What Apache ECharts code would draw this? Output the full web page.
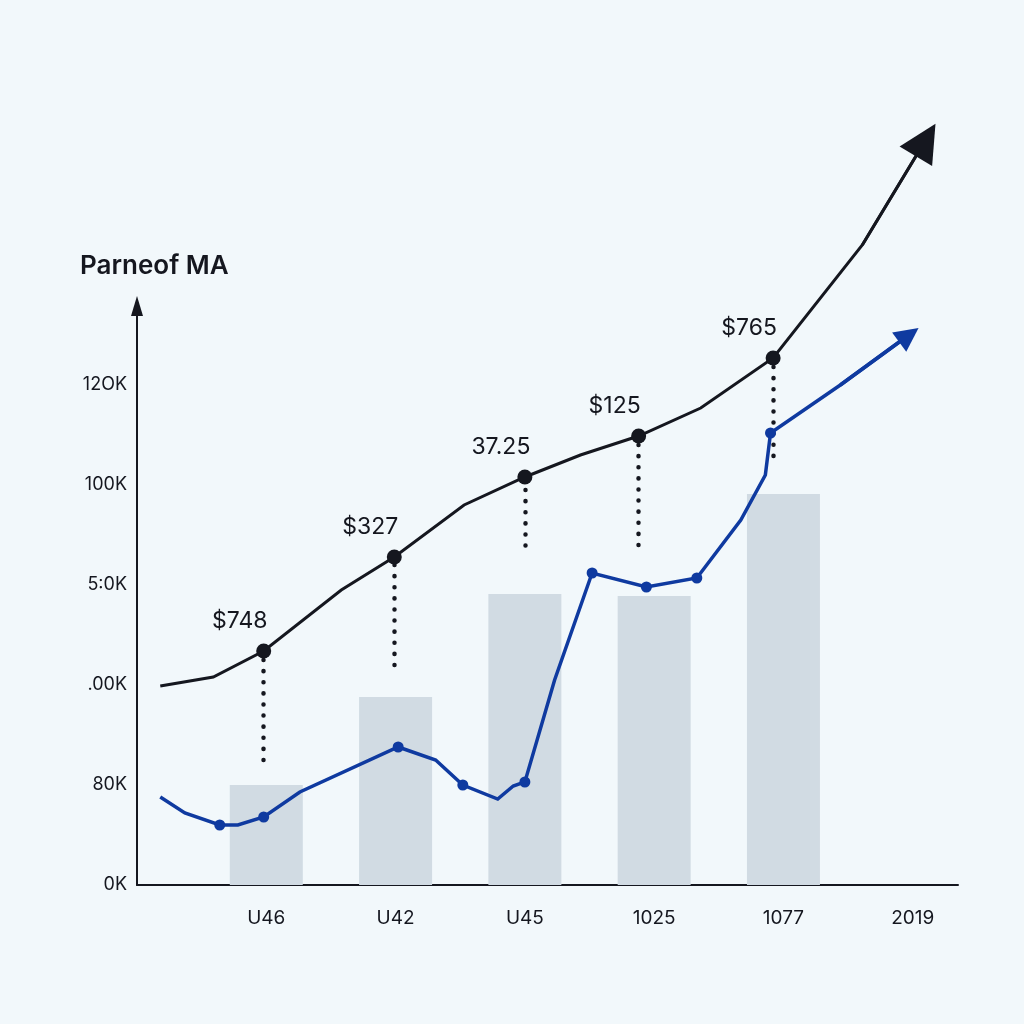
<!DOCTYPE html>
<html><head><meta charset="utf-8">
<script src="https://cdn.jsdelivr.net/npm/echarts@6/dist/echarts.min.js"></script>
<style>html,body{margin:0;padding:0;background:#f2f8fb}#c{width:1024px;height:1024px}</style>
</head><body><div id="c"></div>
<script>
const titleText = "Parneof MA";
const xTickLabels = ["U46","U42","U45","1025","1077","2019"];
const yTickLabels = ["0K","80K",".00K","5:0K","100K","12OK"];
const barX = [1,2,3,4,5];
const barValues = [20,37.6,58.2,57.8,78.2];
const blackX = [0.18,0.59,0.98,1.58,1.99,2.53,3.0,3.43,3.88,4.36,4.92,5.61,6.10];
const blackY = [39.8,41.6,46.8,59,65.6,76,81.6,86,89.8,95.4,105.4,128,149];
const blackMarkerIdx = [2,4,6,8,10];
const blackMarkerLabels = ["$748","$327","37.25","$125","$765"];
const blueX = [0.18,0.37,0.64,0.78,0.98,1.26,2.02,2.31,2.52,2.79,2.91,3.0,3.23,3.52,3.94,4.33,4.67,4.86,4.90,5.44,5.97];
const blueY = [17.6,14.4,12,12,13.6,18.6,27.6,25,20,17.2,19.8,20.6,41,62.4,59.6,61.4,73,82,90.4,100,110];
const blueMarkerIdx = [2,4,6,8,11,13,14,15,18];
const dropTop = [45,64,79,88,103.6];
const dropBottom = [25,42.6,67.8,66.4,84];

const BLACK = "#15171f", BLUE = "#0f3aa0";
const chart = echarts.init(document.getElementById('c'));
const zip = (xs, ys) => xs.map((x,i)=>[x,ys[i]]);
const lastSeg = (xs, ys) => [[xs[xs.length-2], ys[ys.length-2]], [xs[xs.length-1], ys[ys.length-1]]];
chart.setOption({
  backgroundColor: "#f2f8fb",
  animation: false,
  title: { text: titleText, left: 75, top: 248, textStyle: { fontFamily: "Inter", fontSize: 26, fontWeight: 600, color: BLACK } },
  grid: { left: 137, right: 66, top: 306, bottom: 139 },
  xAxis: {
    type: "value", min: 0, max: 6.35, interval: 1,
    splitLine: { show: false },
    axisLine: { lineStyle: { color: BLACK, width: 2 } },
    axisTick: { show: false },
    axisLabel: { margin: 24, fontFamily: "Inter", fontSize: 19, color: "#15171f",
      showMaxLabel: false,
      formatter: v => (Number.isInteger(v) && v >= 1 && v <= 6) ? xTickLabels[v-1] : "" }
  },
  yAxis: {
    type: "value", min: 0, max: 115.8, interval: 20,
    splitLine: { show: false },
    axisLine: { show: true, symbol: ["none","triangle"], symbolSize: [12,20], lineStyle: { color: BLACK, width: 2 } },
    axisTick: { show: false },
    axisLabel: { margin: 10, fontFamily: "Inter", fontSize: 18, color: "#15171f",
      showMaxLabel: false,
      formatter: v => (v % 20 === 0 && v/20 < yTickLabels.length) ? yTickLabels[v/20] : "" }
  },
  series: [
    { type: "bar", data: zip(barX, barValues), barWidth: 73, itemStyle: { color: "#d1dbe3" }, z: 1 },
    { type: "lines", coordinateSystem: "cartesian2d", clip: false,
      data: dropTop.map((t,i)=>{ const x = blackX[blackMarkerIdx[i]]; return { coords: [[x, t],[x, dropBottom[i]]] }; }),
      symbol: ["none","none"],
      lineStyle: { color: BLACK, width: 4.5, type: [0.1, 11], cap: "round", opacity: 1 }, z: 3 },
    { type: "lines", coordinateSystem: "cartesian2d", polyline: true, clip: false,
      data: [{ coords: zip(blackX, blackY) }],
      lineStyle: { color: BLACK, width: 3, opacity: 1 }, z: 4 },
    { type: "lines", coordinateSystem: "cartesian2d", clip: false,
      data: [{ coords: lastSeg(blackX, blackY) }],
      symbol: ["none","triangle"], symbolSize: [36, 38],
      lineStyle: { color: BLACK, width: 3, opacity: 1 }, itemStyle: { color: BLACK }, z: 4 },
    { type: "lines", coordinateSystem: "cartesian2d", polyline: true, clip: false,
      data: [{ coords: zip(blueX, blueY) }],
      lineStyle: { color: BLUE, width: 3.5, opacity: 1 }, z: 4 },
    { type: "lines", coordinateSystem: "cartesian2d", clip: false,
      data: [{ coords: lastSeg(blueX, blueY) }],
      symbol: ["none","triangle"], symbolSize: [24, 24],
      lineStyle: { color: BLUE, width: 3.5, opacity: 1 }, itemStyle: { color: BLUE }, z: 4 },
    { type: "scatter", clip: false, symbolSize: 15, itemStyle: { color: BLACK, opacity: 1 },
      data: blackMarkerIdx.map((k,i)=>({ value: [blackX[k], blackY[k]], label: { formatter: blackMarkerLabels[i] } })),
      label: { show: true, position: "top", offset: [-24, -6], fontFamily: "Inter", fontSize: 23, color: "#15171f" }, z: 5 },
    { type: "scatter", clip: false, symbolSize: 11, itemStyle: { color: BLUE, opacity: 1 },
      data: blueMarkerIdx.map(k => [blueX[k], blueY[k]]), z: 5 }
  ]
});
</script></body></html>
